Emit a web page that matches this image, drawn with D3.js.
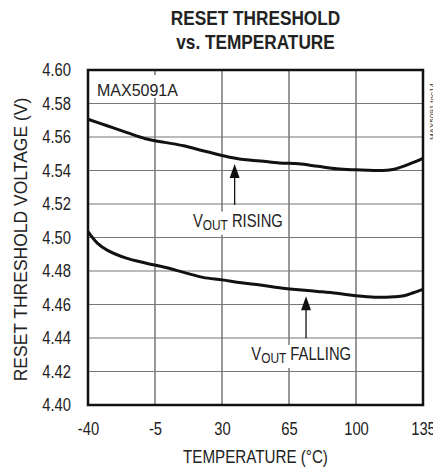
<!DOCTYPE html>
<html>
<head>
<meta charset="utf-8">
<script src="https://cdn.jsdelivr.net/npm/d3@7"></script>
<style>
  body { margin: 0; background: #fff; }
  svg { display: block; }
</style>
</head>
<body>
<div id="chart-area"></div>
<script>
// data
const temps = [-40, -30, -20, -10, 0, 10, 20, 30, 40, 50, 60, 70, 80, 90, 100, 110, 120, 130, 135]
const risingV = [4.5706, 4.5667, 4.5628, 4.5590, 4.5568, 4.5548, 4.5518, 4.5490, 4.5467, 4.5457,
  4.5445, 4.5440, 4.5425, 4.5410, 4.5404, 4.5400, 4.5408, 4.5448, 4.5473]

const fallTemps = [-40, -35, -30, -20, -10, 0, 10, 20, 30, 40, 50, 60, 70, 80, 90, 100, 110, 120, 125, 130, 135]
const fallingV = [4.5035, 4.4965, 4.4925, 4.4877, 4.4848, 4.4822, 4.4792, 4.4762, 4.4747, 4.4730,
  4.4716, 4.4700, 4.4688, 4.4678, 4.4667, 4.4652, 4.4643, 4.4646, 4.4652, 4.4670, 4.4690]

const xTicks = [-40, -5, 30, 65, 100, 135]
const yTicks = [4.40, 4.42, 4.44, 4.46, 4.48, 4.50, 4.52, 4.54, 4.56, 4.58, 4.60]

// arrow annotations: temperature of arrow, label start temperature / voltage
const notes = [
  { label: "RISING", at: 36.6, tipV: 4.5457, tailV: 4.5194, textT: 14.8, textV: 4.5065 },
  { label: "FALLING", at: 73.9, tipV: 4.4667, tailV: 4.4398, textT: 45.3, textV: 4.4269 }
]

const MARGIN = { LEFT: 88, RIGHT: 10, TOP: 70, BOTTOM: 63 }
const WIDTH = 433 - MARGIN.LEFT - MARGIN.RIGHT
const HEIGHT = 468 - MARGIN.TOP - MARGIN.BOTTOM
const FONT = "'Liberation Sans', Arial, sans-serif"

// no narrow face installed, so squeeze the regular one
function narrow(sel, k) {
  sel.each(function () {
    const len = this.getComputedTextLength()
    d3.select(this).attr("textLength", len * (k || 0.82)).attr("lengthAdjust", "spacingAndGlyphs")
  })
}

const svg = d3.select("#chart-area").append("svg")
  .attr("width", 433)
  .attr("height", 468)

const g = svg.append("g")
  .attr("transform", `translate(${MARGIN.LEFT}, ${MARGIN.TOP})`)

const x = d3.scaleLinear().domain([-40, 135]).range([0, WIDTH])
const y = d3.scaleLinear().domain([4.40, 4.60]).range([HEIGHT, 0])

// title
svg.append("text")
  .attr("x", MARGIN.LEFT + WIDTH / 2).attr("y", 25)
  .attr("text-anchor", "middle")
  .style("font", `bold 21px ${FONT}`).attr("fill", "#222")
  .text("RESET THRESHOLD")
  .call(narrow)
svg.append("text")
  .attr("x", MARGIN.LEFT + WIDTH / 2).attr("y", 49)
  .attr("text-anchor", "middle")
  .style("font", `bold 21px ${FONT}`).attr("fill", "#222")
  .text("vs. TEMPERATURE")
  .call(narrow)

// grid
g.selectAll(".vgrid").data(xTicks).enter().append("line")
  .attr("class", "vgrid")
  .attr("x1", d => x(d)).attr("x2", d => x(d))
  .attr("y1", 0).attr("y2", HEIGHT)
  .attr("stroke", "#555").attr("stroke-width", 1.2)
g.selectAll(".hgrid").data(yTicks).enter().append("line")
  .attr("class", "hgrid")
  .attr("x1", 0).attr("x2", WIDTH)
  .attr("y1", d => y(d)).attr("y2", d => y(d))
  .attr("stroke", "#777").attr("stroke-width", 1.2)

// axes (labels only)
const xAxis = g.append("g")
  .attr("transform", `translate(0, ${HEIGHT})`)
  .call(d3.axisBottom(x).tickValues(xTicks).tickSize(0).tickPadding(17).tickFormat(d => String(d)))
const yAxis = g.append("g")
  .call(d3.axisLeft(y).tickValues(yTicks).tickSize(0).tickPadding(17).tickFormat(d => d.toFixed(2)))
;[xAxis, yAxis].forEach(a => {
  a.select(".domain").remove()
  a.selectAll("text").style("font", `18px ${FONT}`).attr("fill", "#222").call(narrow)
})

// axis titles
svg.append("text")
  .attr("x", MARGIN.LEFT + WIDTH / 2).attr("y", 463)
  .attr("text-anchor", "middle")
  .style("font", `18.5px ${FONT}`).attr("fill", "#222")
  .text("TEMPERATURE (°C)")
  .call(narrow)
svg.append("text")
  .attr("transform", `translate(27, ${MARGIN.TOP + HEIGHT / 2 + 2}) rotate(-90)`)
  .attr("text-anchor", "middle")
  .style("font", `17.5px ${FONT}`).attr("fill", "#222")
  .text("RESET THRESHOLD VOLTAGE (V)")

// curves
const line = d3.line()
  .x(d => x(d[0]))
  .y(d => y(d[1]))
  .curve(d3.curveCatmullRom)

g.append("path")
  .datum(d3.zip(temps, risingV))
  .attr("fill", "none").attr("stroke", "#111").attr("stroke-width", 3)
  .attr("d", line)
g.append("path")
  .datum(d3.zip(fallTemps, fallingV))
  .attr("fill", "none").attr("stroke", "#111").attr("stroke-width", 3)
  .attr("d", line)

// part number label with white box
const tag = g.append("g")
tag.append("rect")
  .attr("x", 5).attr("y", 5).attr("width", 88).attr("height", 23)
  .attr("fill", "#fff")
tag.append("text")
  .attr("x", 9).attr("y", 26)
  .style("font", `16px ${FONT}`).attr("fill", "#222")
  .text("MAX5091A")

// annotations
notes.forEach(n => {
  const ax = x(n.at)
  const tipY = y(n.tipV) + 3
  g.append("line")
    .attr("x1", ax).attr("x2", ax)
    .attr("y1", tipY + 10).attr("y2", y(n.tailV))
    .attr("stroke", "#111").attr("stroke-width", 1.3)
  g.append("path")
    .attr("d", `M${ax},${tipY} L${ax - 5},${tipY + 14} L${ax + 5},${tipY + 14} Z`)
    .attr("fill", "#111")

  const ng = g.append("g")
  const box = ng.append("rect").attr("fill", "#fff")
  const label = ng.append("text")
    .attr("x", x(n.textT)).attr("y", y(n.textV))
    .style("font", `18px ${FONT}`).attr("fill", "#222")
  label.append("tspan").text("V")
  label.append("tspan").attr("dy", 3).style("font-size", "14.5px").text("OUT")
  label.append("tspan").attr("dy", -3).text(" " + n.label)
  narrow(label)
  const bb = label.node().getBBox()
  box.attr("x", bb.x - 3).attr("y", bb.y + 1)
    .attr("width", bb.width + 4).attr("height", bb.height + 1)
})

// frame
g.append("rect")
  .attr("width", WIDTH).attr("height", HEIGHT)
  .attr("fill", "none").attr("stroke", "#111").attr("stroke-width", 2.5)

// figure tag on the right edge
svg.append("text")
  .attr("transform", `translate(435, 140) rotate(-90)`)
  .style("font", `8px ${FONT}`).attr("fill", "#333")
  .text("MAX5091 toc14")
</script>
</body>
</html>
